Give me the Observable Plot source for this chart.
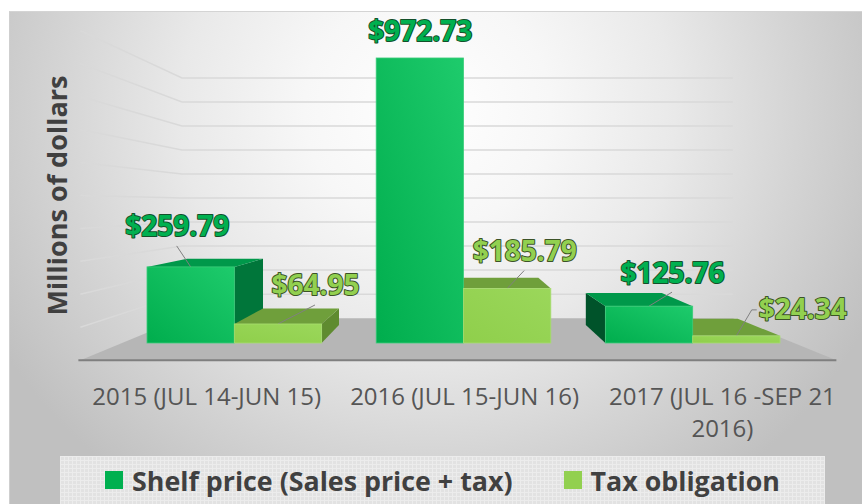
<!DOCTYPE html>
<html>
<head>
<meta charset="utf-8">
<script src="https://cdn.jsdelivr.net/npm/d3@7"></script>
<script src="https://cdn.jsdelivr.net/npm/@observablehq/plot@0.6"></script>
<style>
  html, body { margin: 0; padding: 0; background: #ffffff; }
  #wrap { position: relative; width: 862px; height: 504px; overflow: hidden; font-family: "Open Sans", sans-serif; }
  #panel {
    position: absolute; left: 9px; top: 11px; right: 0; bottom: 0;
    border-top: 1px solid #d4d4d4; border-left: 1px solid #cfcfcf;
    background: radial-gradient(ellipse 58% 95% at 49% 20%, #ffffff 0%, #f7f7f7 25%, #e9e9e9 50%, #d4d4d4 75%, #c0c0c0 100%);
  }
  #chart { position: absolute; left: 0; top: 0; }
  #legend {
    position: absolute; left: 60px; top: 456px; width: 765px; height: 48px;
    display: flex; align-items: center; justify-content: center; gap: 51px;
    background-color: #e2e2e2;
    background-image: linear-gradient(#ececec 1px, transparent 1px), linear-gradient(90deg, #ececec 1px, transparent 1px);
    background-size: 4px 4px;
    font-family: "Open Sans", sans-serif; font-weight: 700; font-size: 26.8px; color: #404040;
  }
  #legend .item { display: flex; align-items: center; white-space: nowrap; }
  #legend .sw { display: inline-block; width: 18px; height: 18px; margin-right: 9px; }
</style>
</head>
<body>
<div id="wrap">
  <div id="panel"></div>
  <div id="chart"></div>
  <div id="legend"></div>
</div>
<script>
// ---------- data ----------
const categories = ["2015 (JUL 14-JUN 15)", "2016 (JUL 15-JUN 16)", "2017 (JUL 16 -SEP 21 2016)"];
const seriesNames = ["Shelf price (Sales price + tax)", "Tax obligation"];
const shelfPrice = [259.79, 972.73, 125.76];
const taxObligation = [64.95, 185.79, 24.34];
const gridValues = [100, 200, 300, 400, 500, 600, 700, 800, 900, 1000];
const yTitle = "Millions of dollars";

// ---------- styles ----------
const seriesStyle = [
  {front: "url(#gShelf)", edge: "#3ccc7a", top: "#00984a", sideR: "#00763a", sideL: "#00532a", label: "#00b050", outline: "#14502a", swatch: "#00b050"},
  {front: "url(#gTax)", edge: "#a8dd70", top: "#6f9f3b", sideR: "#5f8b30", sideL: "#4c7226", label: "#92d050", outline: "#3c5327", swatch: "#92d050"}
];
// manual label nudges (px) from each bar's front-top centre, like dragged Excel labels
const labelNudge = [[-14, -40], [37, -38], [0, -26], [17, -37], [23, -33], [66, -26]];

const VP = [455, 205];       // vanishing point
const KD = 0.87;             // bar back-face depth scale
const KF = 1.125;            // floor front depth scale
const KB = 0.82;             // back wall depth scale

const xRange = [147, 780], padIn = 0.238;
const bandW = (xRange[1] - xRange[0]) / (categories.length - padIn) * (1 - padIn);
const half = bandW / 2;

const rows = categories.flatMap((cat, i) => [
  {cat, series: 0, value: shelfPrice[i]},
  {cat, series: 1, value: taxObligation[i]}
]);
rows.forEach((r, i) => { r.nudge = labelNudge[i]; });
const fmt = d3.format("$,.2f");

function wrap(s, max) {
  const words = s.split(" "); const lines = []; let cur = "";
  for (const w of words) {
    const t = cur ? cur + " " + w : w;
    if (t.length > max && cur) { lines.push(cur); cur = w; } else cur = t;
  }
  lines.push(cur);
  return lines;
}

function scene(index, scales, values, dims) {
  const {x, y} = scales;
  const g = d3.create("svg:g");
  const defs = g.append("defs");
  const grad = (id, a, b) => {
    const lg = defs.append("linearGradient").attr("id", id).attr("x1", 0).attr("y1", 1).attr("x2", 1).attr("y2", 0);
    lg.append("stop").attr("offset", "0%").attr("stop-color", a);
    lg.append("stop").attr("offset", "100%").attr("stop-color", b);
  };
  grad("gShelf", "#00ad4d", "#1ecb6c");
  grad("gTax", "#8fcf4b", "#9bd75b");

  const L = dims.marginLeft, R = dims.width - dims.marginRight, y0 = y(0);
  const P = (px, py, k) => [VP[0] + k * (px - VP[0]), VP[1] + k * (py - VP[1])];
  const path = (pts, close) => "M" + pts.map(p => p.join(",")).join("L") + (close ? "Z" : "");

  // floor
  g.append("path").attr("d", path([P(L, y0, KF), P(R, y0, KF), P(R, y0, KB), P(L, y0, KB)], true)).attr("fill", "#b6b6b6");
  // gridlines on left wall and back wall
  for (const v of gridValues) {
    const yy = y(v);
    g.append("path").attr("d", path([P(L, yy, KF), P(L, yy, KB), P(R, yy, KB)]))
      .attr("fill", "none").attr("stroke", "#d9d9d9").attr("stroke-width", 1.5);
  }
  // floor front edge (axis line)
  const fa = P(L, y0, KF), fb = P(R, y0, KF);
  g.append("line").attr("x1", fa[0] - 2).attr("y1", fa[1]).attr("x2", fb[0]).attr("y2", fb[1])
    .attr("stroke", "#7f7f7f").attr("stroke-width", 2);

  // bar side & top faces
  const bw = x.bandwidth() / 2;
  const bars = rows.map(r => { const x0 = x(r.cat) + r.series * bw; return {...r, x0, x1: x0 + bw, yt: y(r.value), yb: y0}; });
  const order = bars.slice().sort((a, b) => Math.abs((b.x0 + b.x1) / 2 - VP[0]) - Math.abs((a.x0 + a.x1) / 2 - VP[0]));
  for (const b of order) {
    const st = seriesStyle[b.series];
    const [bx0, byt] = P(b.x0, b.yt, KD);
    const [bx1] = P(b.x1, b.yt, KD);
    const [, byb] = P(b.x0, b.yb, KD);
    if (b.x1 < VP[0]) g.append("path").attr("d", path([[b.x1, b.yt], [bx1, byt], [bx1, byb], [b.x1, b.yb]], true)).attr("fill", st.sideR);
    if (b.x0 > VP[0]) g.append("path").attr("d", path([[b.x0, b.yt], [bx0, byt], [bx0, byb], [b.x0, b.yb]], true)).attr("fill", st.sideL);
    if (b.yt > VP[1]) g.append("path").attr("d", path([[b.x0, b.yt], [b.x1, b.yt], [bx1, byt], [bx0, byt]], true)).attr("fill", st.top);
  }

  // category labels on the floor's front edge
  for (const c of categories) {
    const [px, py] = P(x(c) + x.bandwidth() / 2, y0, KF);
    const t = g.append("text").attr("text-anchor", "middle").attr("font-family", "Open Sans")
      .attr("font-size", 24).attr("fill", "#555555");
    wrap(c, 20).forEach((ln, i) => t.append("tspan").attr("x", px).attr("y", py + 45 + i * 32).text(ln));
  }

  // leader lines from labels to bars
  for (const b of bars) {
    const tx = (b.x0 + b.x1) / 2, ty = b.yt;
    const lx = tx + b.nudge[0], ly = ty + b.nudge[1];
    const hw = fmt(b.value).length * 7.6;
    let d;
    if (tx < lx - hw) d = `M${lx - hw},${ly}H${lx - hw - 5}L${tx},${ty}`;
    else if (tx > lx + hw) d = `M${lx + hw},${ly}H${lx + hw + 5}L${tx},${ty}`;
    else {
      const sy = ly + 19;
      if (ty - sy < 8) continue;
      d = `M${lx},${sy}L${tx},${ty}`;
    }
    g.append("path").attr("d", d).attr("fill", "none").attr("stroke", "#808080").attr("stroke-width", 1);
  }
  return g.node();
}

const textBase = {fontFamily: "Open Sans", fontWeight: 700, fontSize: 28, strokeWidth: 2, paintOrder: "stroke", lineAnchor: "middle"};

const plot = Plot.plot({
  width: 862,
  height: 450,
  marginLeft: 122, marginRight: 68, marginTop: 20, marginBottom: 80,
  x: {domain: categories, range: xRange, paddingInner: padIn, paddingOuter: 0, round: false, axis: null},
  y: {domain: [0, 1000], range: [343, 50], axis: null},
  style: {background: "transparent", overflow: "visible"},
  marks: [
    scene,
    Plot.barY(rows.filter(r => r.series === 0), {x: "cat", y: "value", insetRight: half, fill: seriesStyle[0].front, stroke: seriesStyle[0].edge, strokeWidth: 0.8}),
    Plot.barY(rows.filter(r => r.series === 1), {x: "cat", y: "value", insetLeft: half, fill: seriesStyle[1].front, stroke: seriesStyle[1].edge, strokeWidth: 0.8}),
    ...rows.map(r => Plot.text([r], {
      ...textBase, x: "cat", y: "value", text: d => fmt(d.value),
      dx: (r.series === 0 ? -half / 2 : half / 2) + r.nudge[0], dy: r.nudge[1],
      fill: seriesStyle[r.series].label, stroke: seriesStyle[r.series].outline
    })),
    Plot.text([yTitle], {text: d => d, frameAnchor: "left", rotate: -90, dx: -64, textAnchor: "middle", lineAnchor: "middle",
      fontFamily: "Open Sans", fontWeight: 700, fontSize: 27, fill: "#404040"})
  ]
});
document.getElementById("chart").appendChild(plot);

// legend
const legend = d3.select("#legend");
seriesNames.forEach((n, i) => {
  const item = legend.append("div").attr("class", "item");
  item.append("span").attr("class", "sw").style("background", seriesStyle[i].swatch);
  item.append("span").text(n);
});
</script>
</body>
</html>
